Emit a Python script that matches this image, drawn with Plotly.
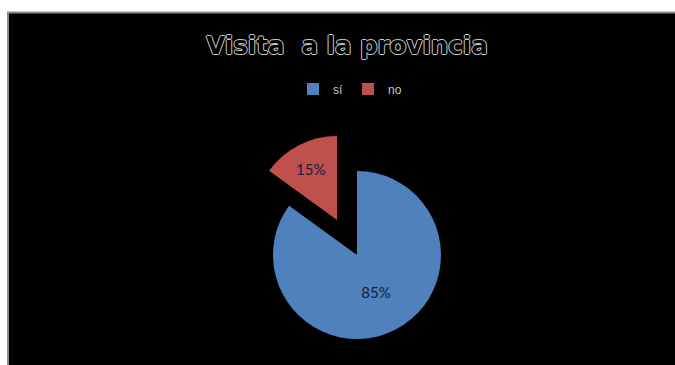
import plotly.graph_objects as go

# ---- data ----
labels = ["sí", "no"]
values = [85, 15]
colors = ["#4f81bd", "#c0504d"]
title_text = "Visita \u00a0a la provincia"

W, H = 675, 365
CLEAR = "rgba(0,0,0,0)"


def fx(px):  # page x -> paper fraction
    return px / W


def fy(py):  # page y -> paper fraction
    return (H - py) / H


def px_dom(cx, cy, r):
    return dict(x=[fx(cx - r), fx(cx + r)], y=[fy(cy + r), fy(cy - r)])


R = 84
blue_center = (357, 255)
red_center = (337, 220)   # exploded slice

common = dict(labels=labels, values=values, sort=False, direction="clockwise",
              rotation=0, hoverinfo="skip", insidetextorientation="horizontal",
              textposition="inside",
              insidetextfont=dict(family="Lato", size=15, color="#14213a"))

fig = go.Figure()
# legend carrier (hidden below the main pie)
fig.add_trace(go.Pie(labels=labels, values=values, sort=False,
                     marker=dict(colors=colors, line=dict(width=0)),
                     textinfo="none", hoverinfo="skip",
                     domain=px_dom(blue_center[0], blue_center[1], 1)))
# main slice
fig.add_trace(go.Pie(**common, showlegend=False,
                     marker=dict(colors=[colors[0], CLEAR], line=dict(width=0)),
                     texttemplate=["%{percent:.0%}", ""],
                     domain=px_dom(blue_center[0], blue_center[1], R)))
# exploded slice
fig.add_trace(go.Pie(**common, showlegend=False,
                     marker=dict(colors=[CLEAR, colors[1]], line=dict(width=0)),
                     texttemplate=["", "%{percent:.0%}"],
                     domain=px_dom(red_center[0], red_center[1], R)))

oc = "#c8c8c8"
outline = ", ".join(f"{dx}px {dy}px 0 {oc}" for dx, dy in
                    [(1, 0), (-1, 0), (0, 1), (0, -1)])

fig.update_layout(
    width=W, height=H,
    margin=dict(l=0, r=0, t=0, b=0),
    paper_bgcolor="white",
    plot_bgcolor="white",
    shapes=[dict(type="rect", xref="paper", yref="paper",
                 x0=fx(8), x1=1.02, y0=-0.02, y1=fy(12.5),
                 fillcolor="black", line=dict(color="#8c8c8c", width=2),
                 layer="below")],
    title=dict(text=title_text, x=fx(347), xanchor="center",
               y=fy(45), yanchor="middle",
               font=dict(family="DejaVu Sans", size=24.5, color="black",
                         weight="bold", shadow=outline)),
    legend=dict(orientation="h", x=fx(293), xanchor="left",
                y=fy(89), yanchor="middle",
                font=dict(family="Liberation Sans", size=12, color="#c8c8c8"),
                bgcolor=CLEAR, itemwidth=30),
)

fig.write_html(
    "out.html",
    config={"displayModeBar": False},
    post_script="document.body.style.margin='0';document.body.style.overflow='hidden';",
)
